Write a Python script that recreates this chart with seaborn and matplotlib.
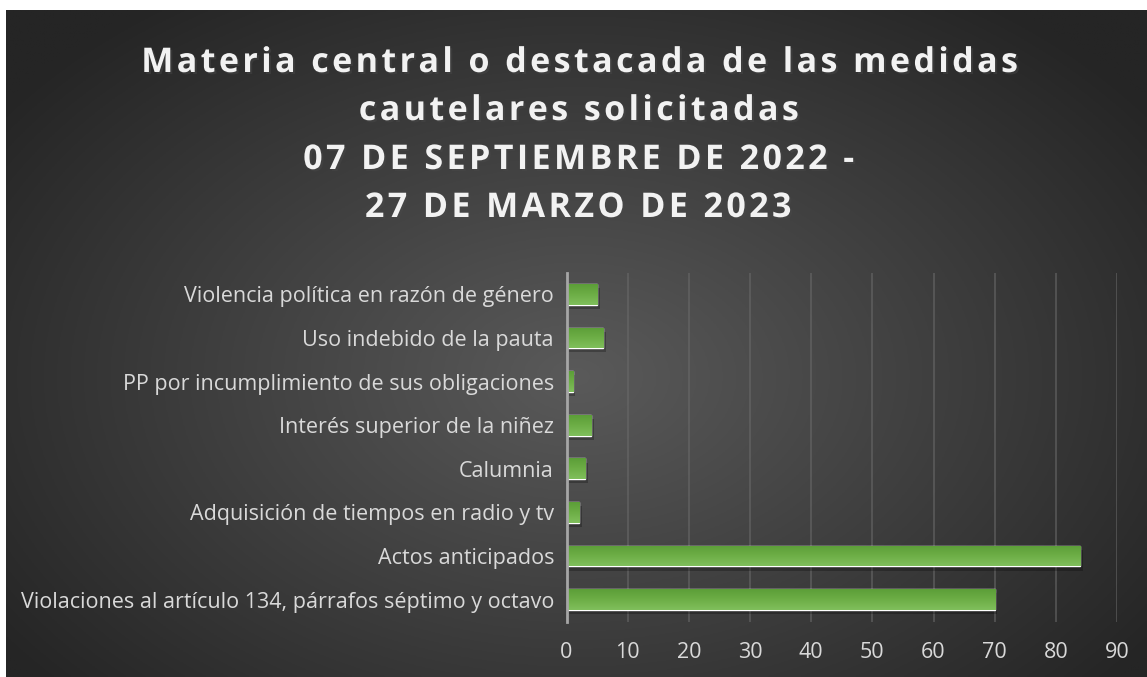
import numpy as np
import pandas as pd
import matplotlib
matplotlib.use("Agg")
import matplotlib.pyplot as plt
import matplotlib.patheffects as pe
from matplotlib.colors import LinearSegmentedColormap
import seaborn as sns

# Data (top to bottom)
categories = [
    "Violencia política en razón de género",
    "Uso indebido de la pauta",
    "PP por incumplimiento de sus obligaciones",
    "Interés superior de la niñez",
    "Calumnia",
    "Adquisición de tiempos en radio y tv",
    "Actos anticipados",
    "Violaciones al artículo 134, párrafos séptimo y octavo",
]
values = [5, 6, 1, 4, 3, 2, 84, 70]
x_ticks = [0, 10, 20, 30, 40, 50, 60, 70, 80, 90]
title_lines = [
    "Materia central o destacada de las medidas",
    "cautelares solicitadas",
    "07 DE SEPTIEMBRE DE 2022 -",
    "27 DE MARZO DE 2023",
]

df = pd.DataFrame({"Materia": categories, "Total": values})

W, H = 1147, 677
sns.set_theme(style="white")
plt.rcParams["font.family"] = ["Open Sans", "DejaVu Sans"]

fig = plt.figure(figsize=(W / 100, H / 100), dpi=100)
fig.patch.set_facecolor("white")

# dark radial gradient background (chart area starts a few px in from top/left)
bg = fig.add_axes([6 / W, 0, 1 - 6 / W, 1 - 10 / H], zorder=0)
gx, gy = np.meshgrid(np.linspace(0, 1, 400), np.linspace(0, 1, 300))
r = np.sqrt(((gx - 0.50) / 0.62) ** 2 + ((gy - 0.55) / 0.70) ** 2)
r = np.clip(r, 0, 1)
c_in, c_out = np.array([0x5a, 0x5a, 0x5a]) / 255, np.array([0x25, 0x25, 0x25]) / 255
img = c_in[None, None, :] * (1 - r[..., None]) + c_out[None, None, :] * r[..., None]
bg.imshow(img, aspect="auto", extent=[0, 1, 0, 1], origin="upper")
bg.set_axis_off()

# main axes
left, right = 566.5 / W, 1117 / W
top, bottom = 1 - 272.5 / H, 1 - 621.5 / H
ax = fig.add_axes([left, bottom, right - left, top - bottom], zorder=1)
ax.set_facecolor("none")

sns.barplot(data=df, x="Total", y="Materia", orient="h", color="#6aae44",
            saturation=1, width=0.475, ax=ax, zorder=3)

# vertical gradient + soft shadow on bars
bar_cmap = LinearSegmentedColormap.from_list("g", ["#5c9e38", "#6dae46", "#80bf5c"])
grad = np.linspace(0, 1, 64).reshape(-1, 1)
for p in ax.patches:
    p.set_path_effects([pe.SimplePatchShadow(offset=(2, -3), shadow_rgbFace="black", alpha=0.25),
                        pe.Normal()])
    x0, y0 = p.get_x(), p.get_y()
    w, h = p.get_width(), p.get_height()
    im = ax.imshow(grad, cmap=bar_cmap, aspect="auto", origin="upper",
                   extent=[x0, x0 + w, y0 + h, y0], zorder=4)
    im.set_clip_path(p)

ax.set_xlim(0, 90)
ax.set_ylim(len(categories) - 0.5, -0.5)
ax.set_xticks(x_ticks)
ax.grid(axis="x", color="#6a6a6a", linewidth=1.3, alpha=0.6)
ax.grid(axis="y", visible=False)
ax.set_axisbelow(True)
for s in ["top", "right", "bottom"]:
    ax.spines[s].set_visible(False)
ax.spines["left"].set_color("#a6a6a6")
ax.spines["left"].set_linewidth(2)
ax.spines["left"].set_zorder(5)

ax.set_xlabel("")
ax.set_ylabel("")
ax.tick_params(axis="both", length=0, colors="#d9d9d9", labelsize=15.5)
ax.tick_params(axis="y", pad=9)
ax.tick_params(axis="x", pad=15)

# title, one text per line, slightly letter-spaced with hair spaces
title_y = [63, 111, 160, 208]
for line, yy in zip(title_lines, title_y):
    spaced = "\u200a".join(line)
    fig.text(578 / W, 1 - yy / H, spaced, ha="center", va="center",
             fontsize=24.5, fontweight="bold", color="#f2f2f2", zorder=5,
             path_effects=[pe.withSimplePatchShadow(offset=(1.5, -1.5), alpha=0.45)])

fig.savefig("out.png", dpi=100, facecolor=fig.get_facecolor())
